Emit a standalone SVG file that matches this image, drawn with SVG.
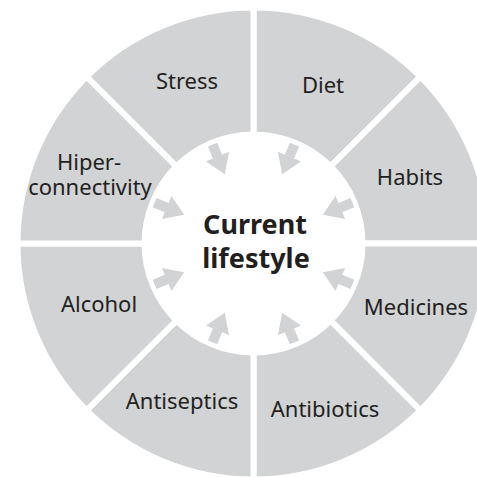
<svg xmlns="http://www.w3.org/2000/svg" width="477" height="477" viewBox="0 0 477 477">
<style>
.seg{fill:#d1d3d4;stroke:#ffffff;stroke-width:6;stroke-linejoin:miter}
.lbl{font-family:"Noto Sans","Liberation Sans",sans-serif;font-size:22px;fill:#231f20;text-anchor:middle}
.ctr{font-family:"Noto Sans","Liberation Sans",sans-serif;font-size:27px;font-weight:bold;fill:#231f20;text-anchor:middle}
.arr{fill:#d1d3d4}
</style>
<defs>
<path id="arrow" class="arr" d="M -5 -107 L 5 -107 L 5 -94 L 12.5 -94 L 0 -75 L -12.5 -94 L -5 -94 Z"/>
</defs>
<rect width="477" height="477" fill="#ffffff"/>
<g id="diet">
<path class="seg" d="M 253.5 7.5 A 236 236 0 0 1 420.38 76.62 L 330.57 166.43 A 109 109 0 0 0 253.5 134.5 Z"/>
<text class="lbl" x="323" y="93">Diet</text>
</g>
<g id="habits">
<path class="seg" d="M 420.38 76.62 A 236 236 0 0 1 489.5 243.5 L 362.5 243.5 A 109 109 0 0 0 330.57 166.43 Z"/>
<text class="lbl" x="410" y="185">Habits</text>
</g>
<g id="medicines">
<path class="seg" d="M 489.5 243.5 A 236 236 0 0 1 420.38 410.38 L 330.57 320.57 A 109 109 0 0 0 362.5 243.5 Z"/>
<text class="lbl" x="416" y="315">Medicines</text>
</g>
<g id="antibiotics">
<path class="seg" d="M 420.38 410.38 A 236 236 0 0 1 253.5 479.5 L 253.5 352.5 A 109 109 0 0 0 330.57 320.57 Z"/>
<text class="lbl" x="325" y="417">Antibiotics</text>
</g>
<g id="antiseptics">
<path class="seg" d="M 253.5 479.5 A 236 236 0 0 1 86.62 410.38 L 176.43 320.57 A 109 109 0 0 0 253.5 352.5 Z"/>
<text class="lbl" x="182" y="409">Antiseptics</text>
</g>
<g id="alcohol">
<path class="seg" d="M 86.62 410.38 A 236 236 0 0 1 17.5 243.5 L 144.5 243.5 A 109 109 0 0 0 176.43 320.57 Z"/>
<text class="lbl" x="99" y="312">Alcohol</text>
</g>
<g id="hiperconnectivity">
<path class="seg" d="M 17.5 243.5 A 236 236 0 0 1 86.62 76.62 L 176.43 166.43 A 109 109 0 0 0 144.5 243.5 Z"/>
<text class="lbl" x="89" y="170">Hiper-</text>
<text class="lbl" x="90" y="195">connectivity</text>
</g>
<g id="stress">
<path class="seg" d="M 86.62 76.62 A 236 236 0 0 1 253.5 7.5 L 253.5 134.5 A 109 109 0 0 0 176.43 166.43 Z"/>
<text class="lbl" x="187" y="89">Stress</text>
</g>
<g id="connectors">
<use href="#arrow" transform="translate(253.5 243.5) rotate(22.5)"/>
<use href="#arrow" transform="translate(253.5 243.5) rotate(67.5)"/>
<use href="#arrow" transform="translate(253.5 243.5) rotate(112.5)"/>
<use href="#arrow" transform="translate(253.5 243.5) rotate(157.5)"/>
<use href="#arrow" transform="translate(253.5 243.5) rotate(202.5)"/>
<use href="#arrow" transform="translate(253.5 243.5) rotate(247.5)"/>
<use href="#arrow" transform="translate(253.5 243.5) rotate(292.5)"/>
<use href="#arrow" transform="translate(253.5 243.5) rotate(337.5)"/>
</g>
<g id="current-lifestyle">
<text class="ctr" x="255" y="234">Current</text>
<text class="ctr" x="256" y="268">lifestyle</text>
</g>
</svg>
